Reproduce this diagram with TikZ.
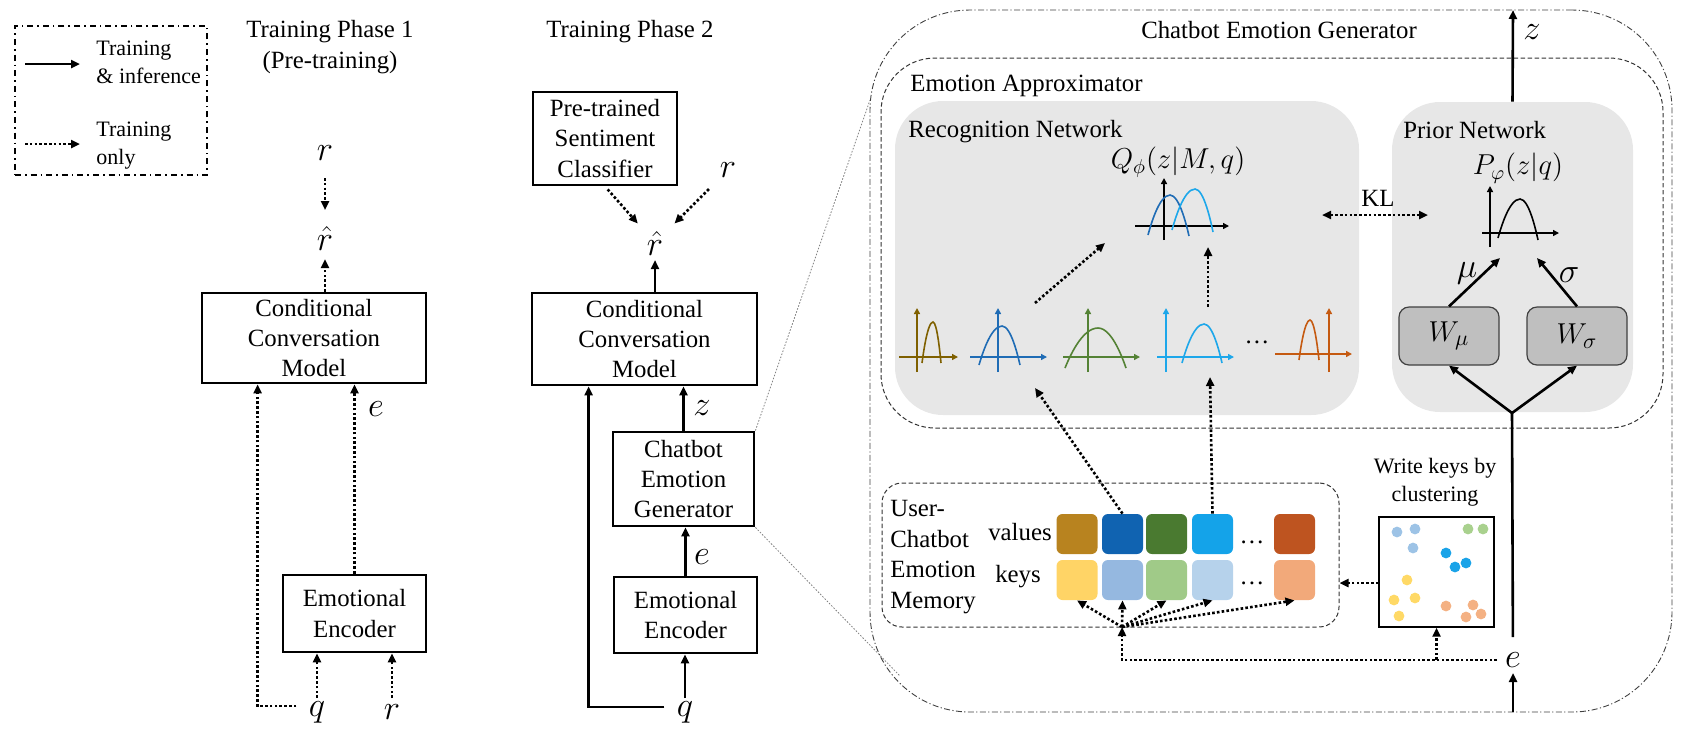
\documentclass[tikz,border=0pt]{standalone}
\usepackage{fontspec}
\setmainfont{Liberation Serif}
\usetikzlibrary{arrows.meta,calc}
\definecolor{recfill}{HTML}{E7E7E7}
\definecolor{wfill}{HTML}{BFBFBF}
\definecolor{cBrown}{HTML}{7F6000}
\definecolor{cBlue}{HTML}{1F6CB5}
\definecolor{cGreen}{HTML}{548235}
\definecolor{cLBlue}{HTML}{1DA7EA}
\definecolor{cOrange}{HTML}{C55A11}
\definecolor{vA}{HTML}{B8831F}
\definecolor{vB}{HTML}{1063B1}
\definecolor{vC}{HTML}{4A7A30}
\definecolor{vD}{HTML}{14A3E9}
\definecolor{vE}{HTML}{BE5420}
\definecolor{kA}{HTML}{FFD466}
\definecolor{kB}{HTML}{95B8E0}
\definecolor{kC}{HTML}{A0CA88}
\definecolor{kD}{HTML}{B6D2EB}
\definecolor{kE}{HTML}{F2A97A}
\definecolor{dB}{HTML}{9DC3E6}
\definecolor{dG}{HTML}{A9D18E}
\definecolor{dL}{HTML}{1AA3E8}
\definecolor{dY}{HTML}{FFD966}
\definecolor{dO}{HTML}{F4B183}
\newcommand\mainfs{\fontsize{12.4}{15.2}\selectfont}
\newcommand\legfs{\fontsize{11}{14}\selectfont}
\tikzset{
  >={Triangle[length=4.5pt,width=4pt]},
  bx/.style={draw, line width=1.4pt, align=center, inner sep=0pt, font=\mainfs},
  txt/.style={inner sep=0pt, align=center, font=\mainfs},
  legtxt/.style={inner sep=0pt, align=left, font=\legfs},
  lbl/.style={inner sep=0pt, font=\fontsize{16}{16}\selectfont},
  mlbl/.style={inner sep=0pt, font=\fontsize{14}{14}\selectfont},
  sarr/.style={line width=1.3pt, ->},
  sline/.style={line width=1.3pt},
  darr/.style={line width=1.3pt, dash pattern=on 1.3pt off 1.1pt, ->},
  pax/.style={line width=0.8pt, -{Triangle[length=3pt,width=3pt]}},
  crv/.style={line width=0.8pt},
  zoomln/.style={draw=gray, line width=0.4pt, dash pattern=on 0.8pt off 0.8pt},
  sq/.style={minimum width=20.5pt, minimum height=20pt, rounded corners=3pt, inner sep=0pt},
  wbox/.style={draw=black!75, line width=0.6pt, fill=wfill, rounded corners=5pt, minimum width=50pt, minimum height=29pt, inner sep=0pt, font=\fontsize{15}{15}\selectfont},
}
\begin{document}
\begin{tikzpicture}[x=0.5pt,y=-0.5pt]
\useasboundingbox (0,0) rectangle (1692,730);

% ---------------- Legend
\node[draw, line width=0.8pt, dash pattern=on 3pt off 2pt on 0.8pt off 2pt, minimum width=96pt, minimum height=74.5pt, inner sep=0pt] (leg) at (111,100.5) {};
\coordinate (la1) at (25,64); \coordinate (la2) at (80,64);
\draw[sarr] (la1) -- (la2);
\node[legtxt, anchor=west] (lt1) at (96,62) {Training\\\& inference};
\coordinate (lb1) at (25,144); \coordinate (lb2) at (80,144);
\draw[darr] (lb1) -- (lb2);
\node[legtxt, anchor=west] (lt2) at (96,146) {Training\\only};

% ---------------- Titles
\node[txt] (t1) at (330,47) {Training Phase 1\\(Pre-training)};
\node[txt] (t2) at (630,32) {Training Phase 2};

% ---------------- Phase 1
\node[bx, minimum width=112pt, minimum height=45pt] (ccm1) at (314,338) {Conditional\\Conversation\\Model};
\node[bx, minimum width=71.5pt, minimum height=38.5pt] (ee1) at (354.5,613.5) {Emotional\\Encoder};
\node[lbl] (r1) at (325,153) {$r$};
\node[lbl] (rh1) at (325,238) {$\hat r$};
\node[lbl] (q1) at (317,712) {$q$};
\node[lbl] (rr1) at (392,712) {$r$};
\node[lbl] (e1) at (376,409) {$e$};
\draw[darr, shorten <=12.5pt, shorten >=14pt] (r1.center) -- (rh1.center);
\draw[darr, shorten >=10.5pt] (ccm1.north -| rh1.center) -- (rh1.center);
\draw[darr] (ee1.north) -- (ee1.north |- ccm1.south);
\draw[darr] ([shift={(-12,-6)}]q1.west) -| ($(ccm1.south west)+(57,0)$);
\draw[darr, shorten <=7pt] (q1.center) -- (q1.center |- ee1.south);
\draw[darr, shorten <=7pt] (rr1.center) -- (rr1.center |- ee1.south);

% ---------------- Phase 2
\node[bx, minimum width=72pt, minimum height=46.5pt] (psc) at (605,138.5) {Pre-trained\\Sentiment\\Classifier};
\node[lbl] (r2) at (728,170) {$r$};
\node[lbl] (rh2) at (655,243) {$\hat r$};
\draw[darr, shorten <=2pt, shorten >=13pt] (psc.south) -- (rh2.center);
\draw[darr, shorten <=13.5pt, shorten >=13.8pt] (r2.center) -- (rh2.center);
\node[bx, minimum width=112.5pt, minimum height=46pt] (ccm2) at (644.5,339) {Conditional\\Conversation\\Model};
\draw[sarr, shorten >=8.5pt] (ccm2.north -| rh2.center) -- (rh2.center);
\node[bx, minimum width=70.5pt, minimum height=47pt] (ceg2) at (683.5,479) {Chatbot\\Emotion\\Generator};
\draw[sarr] (ceg2.north) -- (ceg2.north |- ccm2.south);
\node[lbl] (z2) at (702,408) {$z$};
\node[bx, minimum width=71.5pt, minimum height=38pt] (ee2) at (685.5,615) {Emotional\\Encoder};
\draw[sarr] (ee2.north) -- (ee2.north |- ceg2.south);
\node[lbl] (e2) at (702,557) {$e$};
\node[lbl] (q2) at (685,712) {$q$};
\draw[sarr, shorten <=7pt] (q2.center) -- (q2.center |- ee2.south);
\draw[sarr] ([shift={(-12,-5)}]q2.west) -| ($(ccm2.south west)+(58,0)$);

% zoom lines
\coordinate (zt) at (870,100); \coordinate (zb) at (900,676);
\draw[zoomln] (ceg2.north east) -- (zt);
\draw[zoomln] (ceg2.south east) -- (zb);

% ---------------- Chatbot Emotion Generator (expanded)
\node[draw=black!75, line width=0.45pt, dash pattern=on 3pt off 1.2pt on 0.6pt off 1.2pt, rounded corners=50pt, minimum width=401pt, minimum height=351pt, inner sep=0pt] (cegbig) at (1271,361) {};
\node[txt] (cegl) at (1279,30) {Chatbot Emotion Generator};
\node[draw=black!80, line width=0.5pt, dash pattern=on 2.2pt off 1.3pt, rounded corners=27pt, minimum width=391pt, minimum height=185pt, inner sep=0pt] (ea) at (1272,243) {};
\node[txt, anchor=west] (eal) at (910,86) {Emotion Approximator};
\node[fill=recfill, rounded corners=24pt, minimum width=232pt, minimum height=157pt, inner sep=0pt] (rec) at (1127,258) {};
\node[fill=recfill, rounded corners=24pt, minimum width=120.5pt, minimum height=155pt, inner sep=0pt] (prior) at (1512.5,257) {};
\node[txt, anchor=west] (recl) at (908,132) {Recognition Network};
\node[txt, anchor=west] (priorl) at (1403,130) {Prior Network};

% z output
\coordinate (ztop) at (1513,10);
\draw[sarr] (prior.north) -- (ztop);
\node[lbl] (z3) at (1532,32) {$z$};

% KL
\node[txt] (kl) at (1378,198) {KL};
\coordinate (kla) at (1322,215); \coordinate (klb) at (1428,215);
\draw[darr, <->] (kla) -- (klb);

% Q plot
\node[mlbl] (qlab) at (1178,162) {$Q_\phi(z|M,q)$};
\draw[pax] (1164,240) -- (1164,178);
\draw[pax] (1135,226) -- (1229,226);
\draw[crv, cBlue] (1148,235) parabola bend (1170,195) (1189,236);
\draw[crv, cLBlue] (1172,230) parabola bend (1195,189) (1213,232);

% small plots
\draw[pax, cBrown] (917,372) -- (917,308);
\draw[pax, cBrown] (899,357) -- (958,357);
\draw[crv, cBrown] (922,363) parabola bend (933,322) (941,363);
\draw[pax, cBlue] (998,372) -- (998,308);
\draw[pax, cBlue] (970,357) -- (1047,357);
\draw[crv, cBlue] (979,365) parabola bend (1002,326) (1020,365);
\draw[pax, cGreen] (1088,372) -- (1088,308);
\draw[pax, cGreen] (1063,357) -- (1140,357);
\draw[crv, cGreen] (1065,368) parabola bend (1098,328) (1126,368);
\draw[pax, cLBlue] (1166,372) -- (1166,308);
\draw[pax, cLBlue] (1157,357) -- (1234,357);
\draw[crv, cLBlue] (1182,363) parabola bend (1204,324) (1222,363);
\node[txt] (pdots) at (1257,342) {\dots};
\draw[pax, cOrange] (1329,372) -- (1329,308);
\draw[pax, cOrange] (1275,354) -- (1352,354);
\draw[crv, cOrange] (1299,360) parabola bend (1310,320) (1319,360);

% arrows to Q
\coordinate (qa1) at (1035,303); \coordinate (qa2) at (1105,243);
\draw[darr] (qa1) -- (qa2);
\coordinate (qb1) at (1208,307); \coordinate (qb2) at (1208,247);
\draw[darr] (qb1) -- (qb2);

% P plot
\node[mlbl] (plab) at (1518,168) {$P_\varphi(z|q)$};
\draw[pax] (1490,247) -- (1490,186);
\draw[pax] (1482,233) -- (1559,233);
\draw[crv] (1498,238) parabola bend (1520,199) (1538,240);

% W boxes
\node[wbox] (wmu) at (1449,336) {$W_\mu$};
\node[wbox] (ws) at (1577,336) {$W_\sigma$};
\coordinate (muend) at (1500,258); \coordinate (sgend) at (1537,258);
\draw[sarr] (wmu.north) -- (muend);
\draw[sarr] (ws.north) -- (sgend);
\node[lbl] (mul) at (1467,273) {$\mu$};
\node[lbl] (sgl) at (1569,275) {$\sigma$};
\coordinate (fork) at (1512,413);
\draw[sarr] (fork) -- (wmu.south);
\draw[sarr] (fork) -- (ws.south);

% main e
\node[lbl] (e3) at (1513,660) {$e$};
\draw[sline, shorten <=11.5pt] (e3.center) -- (fork);
\draw[sarr, shorten >=6.5pt] (e3.center |- cegbig.south) -- (e3.center);

% memory
\node[draw=black!80, line width=0.5pt, dash pattern=on 2.2pt off 1.3pt, rounded corners=10pt, minimum width=228.5pt, minimum height=72pt, inner sep=0pt] (mem) at (1110.5,555) {};
\node[txt, anchor=west, align=left] (meml) at (890,557) {User-\\Chatbot\\Emotion\\Memory};
\node[txt] (vall) at (1020,532) {values};
\node[txt] (keyl) at (1018,577) {keys};
\node[sq, fill=vA] (v1) at (1077,534) {};
\node[sq, fill=vB] (v2) at (1122.5,534) {};
\node[sq, fill=vC] (v3) at (1166.5,534) {};
\node[sq, fill=vD] (v4) at (1212.5,534) {};
\node[sq, fill=vE] (v5) at (1294.5,534) {};
\node[sq, fill=kA] (k1) at (1077,580) {};
\node[sq, fill=kB] (k2) at (1122.5,580) {};
\node[sq, fill=kC] (k3) at (1166.5,580) {};
\node[sq, fill=kD] (k4) at (1212.5,580) {};
\node[sq, fill=kE] (k5) at (1294.5,580) {};
\node[txt] (vdots) at (1252,542) {\dots};
\node[txt] (kdots) at (1252,583) {\dots};

\coordinate (fan) at (1122,627);
\draw[darr, shorten <=8pt] (e3.center) -| (fan);
\foreach \k in {k1,k2,k3,k4,k5} \draw[darr] (fan) -- (\k.south);
\coordinate (p2a) at (1035,388); \coordinate (p4a) at (1210,377);
\draw[darr] (v2.north) -- (p2a);
\draw[darr] (v4.north) -- (p4a);

% clustering
\node[draw, line width=0.7pt, minimum width=57.5pt, minimum height=55pt, inner sep=0pt] (clu) at (1436.5,572) {};
\node[legtxt, align=center] (wk) at (1435,482) {Write keys by\\clustering};
\foreach \x/\y in {1397/532,1415/529,1413/548} \fill[dB] (\x,\y) circle (2.7pt);
\foreach \x/\y in {1468/529,1483/529} \fill[dG] (\x,\y) circle (2.7pt);
\foreach \x/\y in {1446/553,1466/563,1455/567} \fill[dL] (\x,\y) circle (2.7pt);
\foreach \x/\y in {1407/580,1394/600,1415/598,1399/616} \fill[dY] (\x,\y) circle (2.7pt);
\foreach \x/\y in {1446/606,1473/605,1481/614,1466/617} \fill[dO] (\x,\y) circle (2.7pt);
\draw[darr] (clu.south |- e3.center) -- (clu.south);
\path ($(clu.west)+(0,11)$) coordinate (cw);
\draw[darr] (cw) -- (cw -| mem.east);
\end{tikzpicture}
\end{document}
